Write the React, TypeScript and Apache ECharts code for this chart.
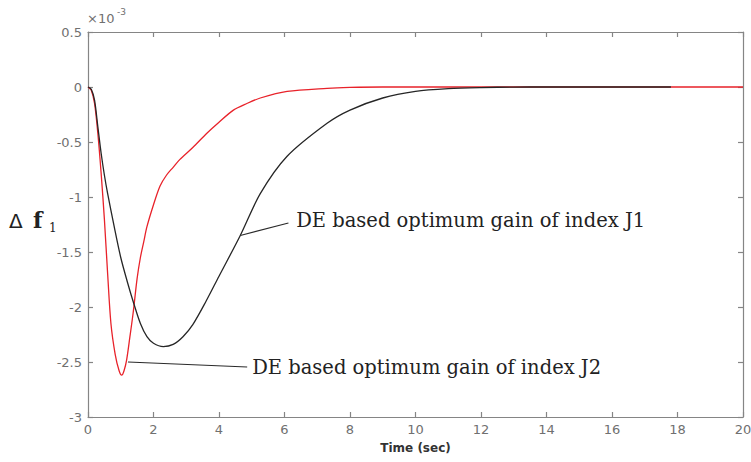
import React, { useEffect, useRef } from "react";
import * as echarts from "echarts";

// Time (sec) and Δf1 (×10^-3) for the two controllers
const timeJ1 = [0, 0.1, 0.2, 0.3, 0.4, 0.5, 0.6, 0.8, 1.0, 1.2, 1.4, 1.6, 1.8, 2.0, 2.3, 2.6, 2.9, 3.2, 3.6, 4.0, 4.65, 5.26, 6.08, 7.3, 8, 9, 10, 11, 12, 13, 14, 17.8];
const deltaJ1 = [0, -0.02, -0.12, -0.36, -0.6, -0.8, -0.97, -1.27, -1.55, -1.77, -1.97, -2.15, -2.27, -2.33, -2.36, -2.34, -2.27, -2.16, -1.95, -1.72, -1.35, -0.97, -0.63, -0.33, -0.21, -0.1, -0.04, -0.015, -0.005, -0.001, 0, 0];

const timeJ2 = [0, 0.1, 0.2, 0.3, 0.4, 0.5, 0.6, 0.7, 0.83, 0.95, 1.03, 1.1, 1.18, 1.28, 1.38, 1.5, 1.6, 1.7, 1.8, 2.0, 2.2, 2.4, 2.6, 2.8, 3.2, 3.63, 4.0, 4.44, 4.85, 5.26, 6.08, 7.3, 8, 9, 20];
const deltaJ2 = [0, -0.03, -0.15, -0.42, -0.78, -1.2, -1.7, -2.15, -2.43, -2.58, -2.62, -2.58, -2.48, -2.27, -2.05, -1.74, -1.55, -1.41, -1.27, -1.07, -0.9, -0.8, -0.73, -0.66, -0.55, -0.42, -0.32, -0.21, -0.15, -0.1, -0.04, -0.012, -0.004, 0, 0];

const xTicks = { min: 0, max: 20, interval: 2 };
const yTicks = { min: -3, max: 0.5, interval: 0.5 };

const labelJ1 = "DE based optimum gain of index J1";
const labelJ2 = "DE based optimum gain of index J2";
// leader lines: [anchor on curve], [line end]
const leaderJ1 = [[4.65, -1.35], [6.12, -1.236]];
const leaderJ2 = [[1.22, -2.5], [4.86, -2.545]];

const AXIS = "#858585";
const TICKTXT = "#707070";

export default function App() {
  const ref = useRef<HTMLDivElement>(null);
  useEffect(() => {
    const chart = echarts.init(ref.current!, null, { renderer: "svg" });
    const pair = (t: number[], v: number[]) => t.map((x, i) => [x, v[i]]);
    const axisCommon = {
      type: "value" as const,
      axisLine: { show: true, onZero: false, lineStyle: { color: AXIS, width: 1.2 } },
      axisTick: { show: true, inside: true, length: 5, lineStyle: { color: AXIS, width: 1.2 } },
      splitLine: { show: false },
    };
    const tickLabel = {
      color: TICKTXT,
      fontFamily: "DejaVu Sans",
      fontSize: 13,
    };
    const annLabel = {
      show: true,
      position: "end",
      color: "#222",
      fontFamily: "DejaVu Serif",
      fontSize: 19.5,
    };
    chart.setOption({
      animation: false,
      backgroundColor: "#ffffff",
      grid: {
        left: 88,
        right: 8,
        top: 32,
        bottom: 45,
        containLabel: false,
        outerBoundsMode: "none",
      },
      xAxis: [
        {
          ...axisCommon,
          ...xTicks,
          position: "bottom",
          axisLabel: { ...tickLabel, margin: 6 },
          name: "Time (sec)",
          nameLocation: "middle",
          nameGap: 25,
          nameTextStyle: {
            color: "#333",
            fontFamily: "DejaVu Sans",
            fontWeight: "bold",
            fontSize: 12,
          },
        },
        {
          ...axisCommon,
          ...xTicks,
          position: "top",
          axisLabel: { show: false },
        },
      ],
      yAxis: [
        {
          ...axisCommon,
          ...yTicks,
          position: "left",
          axisLabel: { ...tickLabel, margin: 6 },
        },
        {
          ...axisCommon,
          ...yTicks,
          position: "right",
          axisLabel: { show: false },
        },
      ],
      series: [
        {
          name: "J2",
          type: "line",
          data: pair(timeJ2, deltaJ2),
          showSymbol: false,
          smooth: 0.3,
          lineStyle: { color: "#e8222a", width: 1.3 },
          markLine: {
            silent: true,
            symbol: ["none", "none"],
            lineStyle: { color: "#2a2a2a", width: 1.1, type: "solid" },
            label: { ...annLabel, distance: 5, formatter: labelJ2 },
            data: [[{ coord: leaderJ2[0] }, { coord: leaderJ2[1] }]],
          },
        },
        {
          name: "J1",
          type: "line",
          data: pair(timeJ1, deltaJ1),
          showSymbol: false,
          smooth: 0.3,
          lineStyle: { color: "#262626", width: 1.3 },
          markLine: {
            silent: true,
            symbol: ["none", "none"],
            lineStyle: { color: "#2a2a2a", width: 1.1, type: "solid" },
            label: { ...annLabel, distance: 8, formatter: labelJ1 },
            data: [[{ coord: leaderJ1[0] }, { coord: leaderJ1[1] }]],
          },
        },
      ],
      graphic: [
        {
          type: "text",
          left: 87,
          top: 12,
          style: { text: "×10", fill: TICKTXT, font: "13px 'DejaVu Sans'" },
        },
        {
          type: "text",
          left: 117,
          top: 7,
          style: { text: "-3", fill: TICKTXT, font: "9px 'DejaVu Sans'" },
        },
        {
          type: "text",
          left: 9,
          top: 211,
          style: { text: "Δ", fill: "#222", font: "20px 'DejaVu Sans'" },
        },
        {
          type: "text",
          left: 33,
          top: 209,
          style: { text: "f", fill: "#222", font: "bold 22px 'DejaVu Serif'" },
        },
        {
          type: "text",
          left: 49,
          top: 222,
          style: { text: "1", fill: "#222", font: "12px 'DejaVu Serif'" },
        },
      ],
    });
    return () => chart.dispose();
  }, []);
  return (
    <div
      ref={ref}
      style={{ position: "fixed", left: 0, top: 0, width: 751, height: 462, background: "#fff" }}
    />
  );
}
